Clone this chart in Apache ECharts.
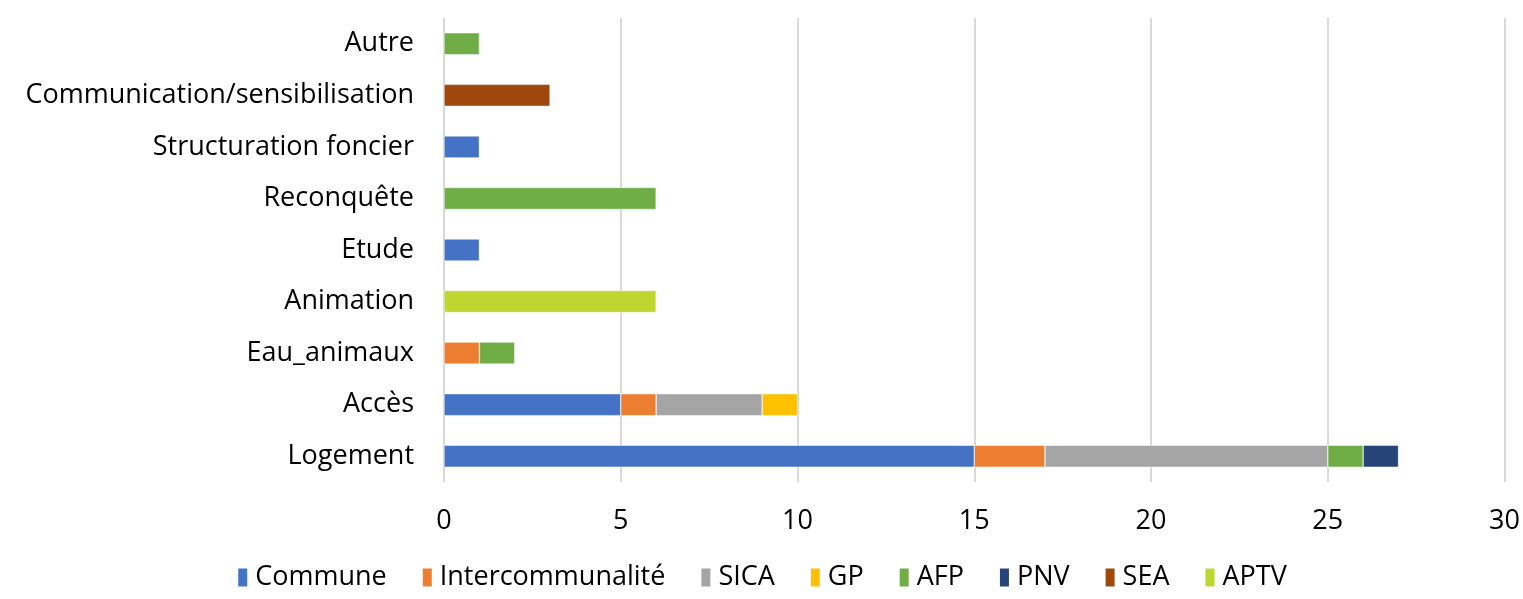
<!DOCTYPE html>
<html>
<head>
<meta charset="utf-8">
<script src="https://cdn.jsdelivr.net/npm/echarts@6/dist/echarts.min.js"></script>
<style>
  html, body { margin: 0; padding: 0; background: #fff; }
  #main { width: 1523px; height: 599px; }
</style>
</head>
<body>
<div id="main"></div>
<script>
// categories, bottom to top
const categories = ['Logement', 'Accès', 'Eau_animaux', 'Animation', 'Etude', 'Reconquête',
  'Structuration foncier', 'Communication/sensibilisation', 'Autre']

const commune = [15, 5, 0, 0, 1, 0, 1, 0, 0]
const intercommunalite = [2, 1, 1, 0, 0, 0, 0, 0, 0]
const sica = [8, 3, 0, 0, 0, 0, 0, 0, 0]
const gp = [0, 1, 0, 0, 0, 0, 0, 0, 0]
const afp = [1, 0, 1, 0, 0, 6, 0, 0, 1]
const pnv = [1, 0, 0, 0, 0, 0, 0, 0, 0]
const sea = [0, 0, 0, 0, 0, 0, 0, 3, 0]
const aptv = [0, 0, 0, 6, 0, 0, 0, 0, 0]

const seriesList = [
  { name: 'Commune', data: commune, color: '#4472C4' },
  { name: 'Intercommunalité', data: intercommunalite, color: '#ED7D31' },
  { name: 'SICA', data: sica, color: '#A5A5A5' },
  { name: 'GP', data: gp, color: '#FFC000' },
  { name: 'AFP', data: afp, color: '#70AD47' },
  { name: 'PNV', data: pnv, color: '#264478' },
  { name: 'SEA', data: sea, color: '#9E480E' },
  { name: 'APTV', data: aptv, color: '#BDD72F' },
]

const font = 'Open Sans, Liberation Sans, sans-serif'
const myChart = echarts.init(document.getElementById('main'))

const option = {
  animation: false,
  grid: { left: 444, right: 17, top: 18, bottom: 117 },
  legend: {
    bottom: 3,
    left: 'center',
    itemWidth: 11,
    itemHeight: 20,
    itemGap: 34,
    icon: 'rect',
    textStyle: { fontFamily: font, fontSize: 27, color: '#000', padding: [0, 0, 0, 2] },
  },
  xAxis: {
    type: 'value',
    min: 0,
    max: 30,
    interval: 5,
    axisLine: { show: false },
    axisTick: { show: false },
    axisLabel: { fontFamily: font, fontSize: 27, color: '#000', margin: 26 },
    splitLine: { show: true, lineStyle: { color: '#D9D9D9', width: 2 } },
  },
  yAxis: {
    type: 'category',
    data: categories,
    axisLine: { show: false },
    axisTick: { show: false },
    axisLabel: { fontFamily: font, fontSize: 27, color: '#000', margin: 30 },
  },
  series: seriesList.map(function (s) {
    return {
      name: s.name,
      type: 'bar',
      stack: 'total',
      barWidth: 22,
      data: s.data.map(function (v) { return v === 0 ? null : v }),
      itemStyle: { color: s.color, borderColor: '#fff', borderWidth: 0.5 },
    }
  }),
}

myChart.setOption(option)
</script>
</body>
</html>
